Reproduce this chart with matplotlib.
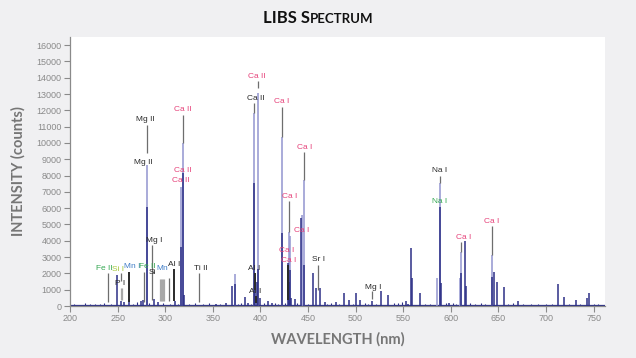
import matplotlib
matplotlib.use('Agg')
import matplotlib.pyplot as plt
from matplotlib.offsetbox import TextArea, HPacker, AnchoredOffsetbox

# spectrum (nm, counts)
# tall pale parts of the peaks
light_wl = [280.6, 316.8, 318.6, 373.5, 393.7, 397.6, 422.7, 430.4, 431.2,
            443.6, 445.3, 585.0, 588.5, 609.4, 611.2, 643.3]
light_int = [8650, 7320, 9980, 1940, 11820, 13050, 10390, 4540, 4300,
             5600, 7730, 1700, 7530, 1700, 3330, 3130]

# dark parts of the peaks
dark_wl = [248.9, 253.4, 257.0, 261.5, 275.0, 277.0, 280.6, 288.3, 292.0,
           310.0, 316.8, 318.6, 319.7, 353.6, 364.1, 370.4, 373.5, 383.6,
           387.1, 393.7, 394.4, 396.2, 397.6, 400.0, 408.4, 412.2, 422.7,
           428.6, 430.4, 431.0, 432.6, 436.0, 442.9, 445.3, 454.8, 458.3,
           462.5, 467.7, 479.2, 487.6, 493.2, 500.2, 504.4, 517.6, 526.4,
           534.4, 552.6, 555.0, 558.5, 559.5, 567.2, 588.5, 589.2, 598.0,
           611.2, 615.4, 616.0, 643.3, 645.4, 648.5, 655.5, 670.5, 713.1,
           718.7, 731.2, 742.7, 745.5]
dark_int = [1900, 300, 250, 400, 300, 350, 6090, 400, 250,
            300, 3640, 8140, 670, 150, 200, 1230, 1350, 570,
            200, 7530, 1800, 1500, 2300, 470, 300, 200, 4480,
            2620, 1500, 2200, 500, 400, 5380, 2500, 2000, 1090,
            1090, 250, 250, 780, 370, 790, 370, 300, 920,
            650, 280, 150, 3540, 1700, 820, 6090, 1390, 200,
            2000, 3990, 1200, 1800, 2100, 1450, 1180, 330, 1350,
            570, 370, 510, 780]

# low wiggles along the baseline
noise_wl = [204, 209, 215.7, 221, 226, 231, 236, 243, 266, 270, 283, 298,
            305, 313, 325, 331, 340, 346, 358, 377, 380, 390, 404, 415,
            418, 426, 438, 450, 470, 474, 483, 497, 510, 513, 521, 540,
            545, 549, 573, 578, 595, 602, 606, 620, 625, 632, 636, 660,
            665, 676, 684, 692, 700, 706, 724, 736, 750, 755]
noise_int = [120, 90, 180, 100, 140, 110, 160, 130, 150, 220, 180, 200,
             150, 140, 120, 160, 110, 170, 130, 150, 190, 140, 210, 170,
             130, 160, 200, 150, 140, 180, 120, 130, 160, 150, 140, 170,
             190, 220, 140, 120, 160, 210, 150, 170, 140, 180, 150, 120,
             160, 110, 150, 130, 140, 120, 150, 130, 120, 110]
baseline = 60

pink = '#e6427a'
green = '#35a852'
ygreen = '#a5c83a'
blue = '#3f7cc6'
black = '#2a2a2a'
gray = '#6e6e6e'
pale = '#a8a8a8'

labels = [("Fe II", 235.9, 2310, green), ("Si I", 249.9, 2250, ygreen),
          ("P I", 252.4, 1350, black), ("Mn I", 265.2, 2450, blue),
          ("Fe II", 281.4, 2450, green), ("Mg II", 279.3, 11410, black),
          ("Mg II", 277.2, 8790, black), ("Mg I", 288.3, 3990, black),
          ("Si", 286.2, 2070, black), ("Mn", 297.0, 2310, blue),
          ("Al I", 309.0, 2560, black), ("Ca II", 318.7, 12030, pink),
          ("Ca II", 318.7, 8340, pink), ("Ca II", 316.3, 7670, pink),
          ("Ti II", 337.2, 2310, black), ("Ca II", 396.5, 14070, pink),
          ("Ca II", 395.5, 12700, black), ("Al I", 393.0, 2310, black),
          ("Al I", 394.8, 920, black), ("Ca I", 422.7, 12540, pink),
          ("Ca I", 430.4, 6710, pink), ("Ca I", 428.0, 3390, pink),
          ("Ca I", 429.3, 2780, pink), ("Ca I", 446.1, 9740, pink),
          ("Ca I", 443.7, 4620, pink), ("Sr I", 461.0, 2860, black),
          ("Mg I", 519.0, 1120, black), ("Na I", 588.5, 8300, black),
          ("Na I", 588.5, 6400, green), ("Ca I", 613.6, 4210, pink),
          ("Ca I", 642.6, 5210, pink)]

# leader lines: x, top, bottom, colour
leaders = [(239.5, 2010, 260, gray), (253.1, 2040, 1550, gray),
           (253.3, 1100, 370, pale), (254.3, 1100, 370, pale),
           (261.5, 2090, 260, black), (277.5, 2090, 260, gray),
           (280.6, 11100, 9390, gray), (286.2, 3740, 370, gray),
           (294.5, 1660, 310, pale), (295.5, 1660, 310, pale),
           (296.5, 1660, 310, pale), (297.5, 1660, 310, pale),
           (298.5, 1660, 310, pale),
           (303.5, 1700, 300, gray), (309.2, 2250, 300, black),
           (318.7, 11720, 10000, gray), (335.4, 2000, 260, gray),
           (397.6, 13800, 13370, gray), (393.7, 12440, 11840, gray),
           (394.4, 2000, 980, black), (395.8, 600, 200, black),
           (422.7, 12230, 10390, gray), (430.4, 6440, 4540, gray),
           (428.6, 2520, 370, black), (445.3, 9470, 7730, gray),
           (460.0, 2520, 980, gray), (517.6, 920, 430, gray),
           (588.5, 8000, 7530, gray), (611.2, 3940, 3330, gray),
           (643.3, 4910, 3130, gray)]

xticks = list(range(200, 751, 50))
yticks = list(range(0, 16001, 1000))

bg = '#f0f0f2'
tick_col = '#8a8a8a'

fig = plt.figure(figsize=(6.36, 3.58), dpi=100, facecolor=bg)
ax = fig.add_axes([70/636, 52/358, 535/636, 269/358])
ax.set_facecolor('white')

navy = '#2c2f86'
lav = '#9294cf'
ax.axhline(baseline, color=navy, lw=0.9, zorder=2)
ax.vlines(noise_wl, 0, noise_int, color=navy, lw=0.8, zorder=2)
ax.vlines(light_wl, 0, light_int, color=lav, lw=1.1, zorder=2)
ax.vlines(dark_wl, 0, dark_int, color=navy, lw=1.1, zorder=3)

for x, top, bot, c in leaders:
    ax.vlines(x, bot, top, color=c, lw=1.4 if c == black else 0.9, zorder=4)

for txt, x, y, c in labels:
    ax.text(x, y, txt, color=c, fontsize=6, ha='center', va='center',
            family='Liberation Sans', zorder=5)

ax.set_xlim(200, 762)
ax.set_ylim(0, 16500)
ax.set_xticks(xticks)
ax.set_yticks(yticks)
for s in ['top', 'right']:
    ax.spines[s].set_visible(False)
for s in ['left', 'bottom']:
    ax.spines[s].set_color(tick_col)
    ax.spines[s].set_linewidth(0.9)
ax.tick_params(direction='out', length=4, width=0.8, color=tick_col,
               labelcolor=tick_col, labelsize=6.5, pad=2)
for lab in ax.get_xticklabels() + ax.get_yticklabels():
    lab.set_family('Liberation Sans')

ax.set_xlabel('WAVELENGTH (nm)', fontsize=10.5, color='#767676',
              fontweight='bold', family='Lato', labelpad=6)
ax.set_ylabel('INTENSITY (counts)', fontsize=10.5, color='#767676',
              fontweight='bold', family='Lato', labelpad=8)

# small-caps title
t1 = TextArea('LIBS S', textprops=dict(fontsize=12, fontweight='bold',
                                       family='Lato', color='#111111'))
t2 = TextArea('PECTRUM', textprops=dict(fontsize=9.5, fontweight='bold',
                                        family='Lato', color='#111111'))
box = HPacker(children=[t1, t2], align='baseline', pad=0, sep=0)
anch = AnchoredOffsetbox(loc='center', child=box, pad=0, frameon=False,
                         bbox_to_anchor=(0.5, 1 - 18/358),
                         bbox_transform=fig.transFigure, borderpad=0)
fig.add_artist(anch)

fig.savefig('out.png', dpi=100, facecolor=bg)
